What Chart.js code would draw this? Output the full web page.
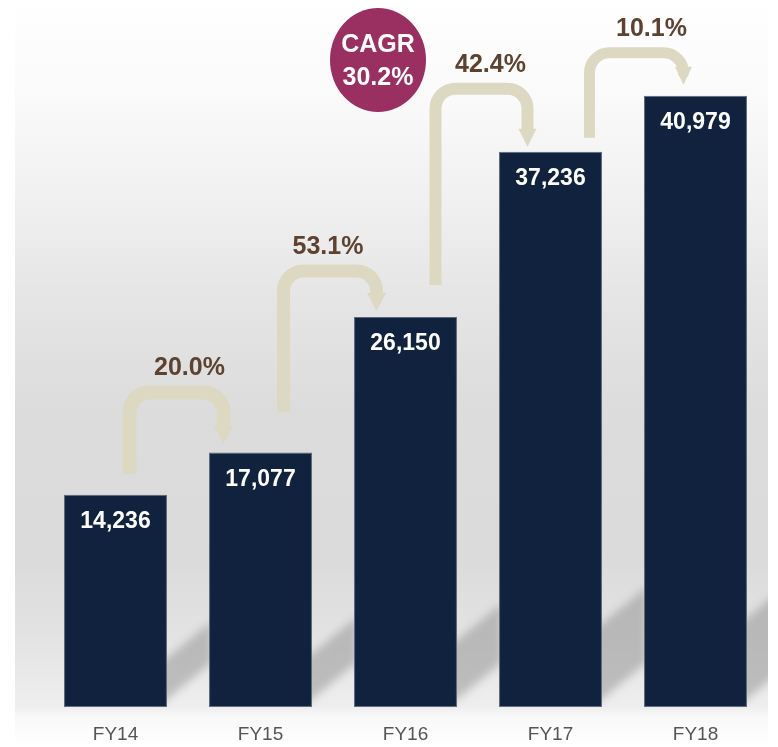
<!DOCTYPE html>
<html>
<head>
<meta charset="utf-8">
<script src="https://cdn.jsdelivr.net/npm/chart.js@4.4.1/dist/chart.umd.min.js"></script>
<style>
  body { margin: 0; background: #fff; }
  #wrap { width: 778px; height: 747px; }
</style>
</head>
<body>
<div id="wrap"><canvas id="myChart" width="778" height="747"></canvas></div>
<script>
// data
var categories = ['FY14', 'FY15', 'FY16', 'FY17', 'FY18'];
var revenue = [14236, 17077, 26150, 37236, 40979];
var growth = ['20.0%', '53.1%', '42.4%', '10.1%'];
var cagrText = ['CAGR', '30.2%'];

// arrow placement, relative to the bars (pixels)
var arrowLook = [
  { stemDx: 14, stemGap: 21, rise: 60, tipDx: -37, tipGap: 9, labelDx: 13, width: 14 },
  { stemDx: 23, stemGap: 40, rise: 46, tipDx: -29, tipGap: 6, labelDx: -2, width: 13 },
  { stemDx: 30, stemGap: 32, rise: 63, tipDx: -23, tipGap: 5, labelDx: 9, width: 12 },
  { stemDx: 39, stemGap: 14, rise: 43, tipDx: -12, tipGap: 11, labelDx: 15, width: 11 }
];

var barColor = '#10223d';
var arrowColor = '#ddd8c1';
var brown = '#5e4230';
var fontName = '"Liberation Sans", Arial, sans-serif';

var backdrop = {
  id: 'backdrop',
  beforeDraw: function(chart) {
    var ctx = chart.ctx;
    ctx.save();
    ctx.fillStyle = '#fff';
    ctx.fillRect(0, 0, chart.width, chart.height);
    var g = ctx.createLinearGradient(0, 0, 0, chart.height);
    g.addColorStop(0, '#ffffff');
    g.addColorStop(0.13, '#fafafa');
    g.addColorStop(0.27, '#f0f0f0');
    g.addColorStop(0.40, '#e5e5e5');
    g.addColorStop(0.55, '#dcdcdc');
    g.addColorStop(0.75, '#dbdbdb');
    g.addColorStop(0.86, '#e4e4e4');
    g.addColorStop(0.945, '#eeeeee');
    g.addColorStop(0.96, '#f8f8f8');
    g.addColorStop(1, '#ffffff');
    ctx.fillStyle = g;
    ctx.fillRect(15, 0, 768 - 15, chart.height);
    ctx.restore();
  },
  beforeDatasetsDraw: function(chart) {
    // soft shadows cast up and to the right of each bar
    var ctx = chart.ctx;
    var bottom = chart.chartArea.bottom;
    var meta = chart.getDatasetMeta(0);
    ctx.save();
    ctx.beginPath();
    ctx.rect(15, 0, 768 - 15, bottom);
    ctx.clip();
    ctx.filter = 'blur(4px)';
    ctx.fillStyle = 'rgba(150,150,150,0.55)';
    meta.data.forEach(function(bar) {
      var r = bar.x + bar.width / 2;
      var bh = bottom - bar.y;
      var h = 20 + bh * 0.1;
      ctx.beginPath();
      ctx.moveTo(r - 10, bottom);
      ctx.lineTo(r + 45, bottom - 45);
      ctx.lineTo(r + 45, bottom - 45 - h);
      ctx.lineTo(r - 10, bottom - h);
      ctx.closePath();
      ctx.fill();
    });
    ctx.restore();
  },
  afterDatasetsDraw: function(chart) {
    var ctx = chart.ctx;
    var xs = chart.scales.x, ys = chart.scales.y;
    var meta = chart.getDatasetMeta(0);
    ctx.save();

    // values inside bars
    ctx.fillStyle = '#fff';
    ctx.font = 'bold 23px ' + fontName;
    ctx.textAlign = 'center';
    ctx.textBaseline = 'middle';
    meta.data.forEach(function(bar, i) {
      ctx.fillText(revenue[i].toLocaleString('en-US'), bar.x, bar.y + 27);
    });

    // growth arrows
    for (var i = 0; i < growth.length; i++) {
      var a = arrowLook[i];
      var x0 = xs.getPixelForValue(i), x1 = xs.getPixelForValue(i + 1);
      var y0 = ys.getPixelForValue(revenue[i]), y1 = ys.getPixelForValue(revenue[i + 1]);
      var sx = x0 + a.stemDx, sy = y0 - a.stemGap;
      var py = y1 - a.rise;
      var tx = x1 + a.tipDx, ty = y1 - a.tipGap;
      var head = 18, hw = a.width / 2 + 3, rad = 20;
      ctx.strokeStyle = arrowColor;
      ctx.lineWidth = a.width;
      ctx.lineCap = 'butt';
      ctx.lineJoin = 'round';
      ctx.beginPath();
      ctx.moveTo(sx, sy);
      ctx.lineTo(sx, py + rad);
      ctx.arcTo(sx, py, sx + rad, py, rad);
      ctx.lineTo(tx - rad, py);
      ctx.arcTo(tx, py, tx, py + rad, rad);
      ctx.lineTo(tx, ty - head + 1);
      ctx.stroke();
      ctx.fillStyle = arrowColor;
      ctx.beginPath();
      ctx.moveTo(tx - hw, ty - head);
      ctx.lineTo(tx + hw, ty - head);
      ctx.lineTo(tx, ty);
      ctx.closePath();
      ctx.fill();

      ctx.fillStyle = brown;
      ctx.font = 'bold 25px ' + fontName;
      ctx.fillText(growth[i], (sx + tx) / 2 + a.labelDx, py - 24);
    }

    // CAGR bubble
    var cx = (xs.getPixelForValue(1) + xs.getPixelForValue(2)) / 2 + 45;
    ctx.fillStyle = '#9a2f62';
    ctx.beginPath();
    ctx.ellipse(cx, 60, 48, 52, 0, 0, Math.PI * 2);
    ctx.fill();
    ctx.fillStyle = '#fff';
    ctx.font = 'bold 25px ' + fontName;
    ctx.fillText(cagrText[0], cx, 45);
    ctx.fillText(cagrText[1], cx, 78);
    ctx.restore();
  }
};

var myChart = document.querySelector('#myChart').getContext('2d');

new Chart(myChart, {
  type: 'bar',
  data: {
    labels: categories,
    datasets: [{
      data: revenue,
      backgroundColor: barColor,
      borderColor: '#5d6779',
      borderWidth: 1,
      borderSkipped: false,
      barPercentage: 0.71,
      categoryPercentage: 1
    }]
  },
  options: {
    responsive: false,
    animation: false,
    layout: { padding: { left: 43, right: 10, top: 0, bottom: -15 } },
    plugins: {
      legend: { display: false },
      tooltip: { enabled: false }
    },
    scales: {
      x: {
        grid: { display: false, drawTicks: false },
        border: { display: false },
        ticks: {
          color: '#555',
          padding: 16,
          font: { family: fontName, size: 19 }
        }
      },
      y: {
        display: false,
        min: 0,
        max: 47400
      }
    }
  },
  plugins: [backdrop]
});
</script>
</body>
</html>
